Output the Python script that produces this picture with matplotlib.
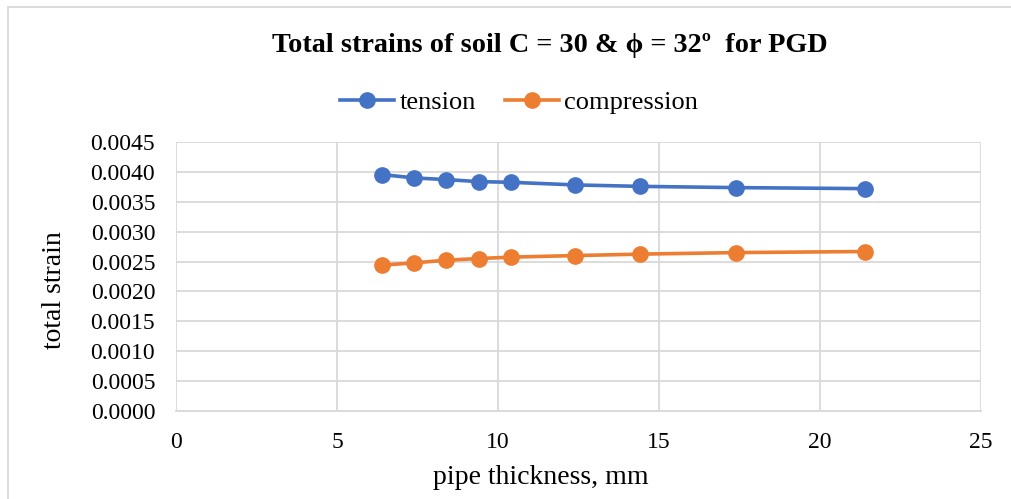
import matplotlib

matplotlib.use("Agg")
import matplotlib.pyplot as plt
from matplotlib.patches import Rectangle

thickness = [6.4, 7.4, 8.4, 9.4, 10.4, 12.4, 14.4, 17.4, 21.4]
tension = [0.003955, 0.003899, 0.003871, 0.003837, 0.003826, 0.003782, 0.003758, 0.003737, 0.003720]
compression = [0.002440, 0.002478, 0.002523, 0.002550, 0.002574, 0.002600, 0.002624, 0.002650, 0.002668]

x_ticks = [0, 5, 10, 15, 20, 25]
y_ticks = [i * 0.0005 for i in range(10)]

plt.rcParams["font.family"] = ["Liberation Serif", "DejaVu Serif"]

W, H = 1011, 499
fig = plt.figure(figsize=(W / 100, H / 100), dpi=100)
ax = fig.add_axes([176 / W, 1 - 411 / H, (981 - 176) / W, (411 - 142) / H])

ax.plot(thickness, tension, color="#4472C4", linewidth=2.6, marker="o", markersize=11,
        label="tension", zorder=3)
ax.plot(thickness, compression, color="#ED7D31", linewidth=2.6, marker="o", markersize=11,
        label="compression", zorder=3)

ax.set_xlim(0, 25)
ax.set_ylim(0, 0.0045)
ax.set_xticks(x_ticks)
ax.set_yticks(y_ticks)
ax.set_yticklabels([f"{v:.4f}" for v in y_ticks])
ax.grid(True, color="#D9D9D9", linewidth=1.3)
ax.set_axisbelow(True)
for side in ["top", "right", "left"]:
    ax.spines[side].set_visible(False)
ax.spines["bottom"].set_color("#D9D9D9")
ax.spines["bottom"].set_linewidth(1.3)
ax.tick_params(length=0, labelsize=17)
ax.tick_params(axis="x", pad=15)
ax.tick_params(axis="y", pad=15)

# Excel centres the axis titles on the whole chart body, not on the plot area
ax.set_xlabel("pipe thickness, mm", fontsize=20, va="center")
ax.xaxis.set_label_coords((541 - 176) / 805, (411 - 477) / 269)
ax.set_ylabel("total strain", fontsize=20, va="center")
ax.yaxis.set_label_coords((55 - 176) / 805, (411 - 290) / 269)

fig.text(550 / W, 1 - 46 / H, "Total strains of soil C = 30 & \u03d5 = 32\u00ba  for PGD",
         ha="center", va="center", fontsize=20.3, fontweight="bold")
fig.legend(loc="center", bbox_to_anchor=(519 / W, 1 - 102 / H), ncols=2, frameon=False,
           fontsize=19, handlelength=2.05, columnspacing=1.1, handletextpad=0.2)

fig.patches.append(Rectangle((8 / W, -0.01), 1.1, 1 - 6.5 / H + 0.01, transform=fig.transFigure,
                             fill=False, edgecolor="#D9D9D9", linewidth=1.3))

fig.savefig("out.png", dpi=100)
